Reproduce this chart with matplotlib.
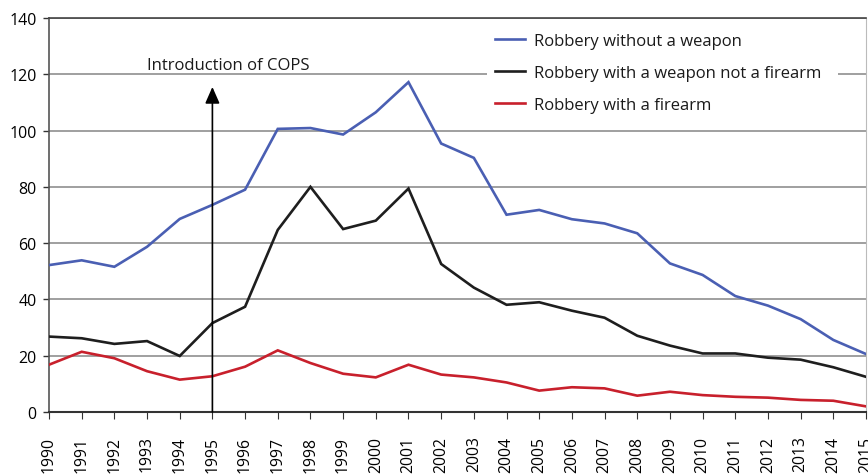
import matplotlib
matplotlib.use("Agg")
import matplotlib.pyplot as plt

plt.rcParams['font.family'] = ['Open Sans', 'DejaVu Sans']

years = list(range(1990, 2016))
without_weapon = [52.2, 53.9, 51.6, 58.7, 68.6, 73.6, 79.0, 100.6, 100.9, 98.6,
                  106.5, 117.2, 95.4, 90.3, 70.1, 71.8, 68.5, 67.0, 63.5, 52.8,
                  48.7, 41.2, 37.8, 33.0, 25.6, 20.6]
weapon_not_firearm = [26.8, 26.2, 24.2, 25.2, 19.9, 31.6, 37.4, 64.7, 80.0, 65.0,
                      68.0, 79.4, 52.6, 44.2, 38.1, 39.0, 36.0, 33.5, 27.1, 23.6,
                      20.8, 20.8, 19.3, 18.6, 15.9, 12.5]
firearm = [16.8, 21.4, 19.1, 14.5, 11.5, 12.7, 16.1, 21.9, 17.4, 13.6,
           12.3, 16.8, 13.3, 12.3, 10.5, 7.6, 8.8, 8.4, 5.8, 7.2,
           6.0, 5.4, 5.1, 4.3, 4.0, 2.0]
series_labels = ["Robbery without a weapon",
                 "Robbery with a weapon not a firearm",
                 "Robbery with a firearm"]
yticks = [0, 20, 40, 60, 80, 100, 120, 140]
annotation_text = "Introduction of COPS"
annotation_year = 1995

fig = plt.figure(figsize=(8.68, 4.77), dpi=100)
ax = fig.add_axes([49/868, 1-413/477, (866-49)/868, (413-19)/477])

colors = ['#4a5fb3', '#1e1e1e', '#c8202c']
for vals, lab, c in zip([without_weapon, weapon_not_firearm, firearm], series_labels, colors):
    ax.plot(years, vals, color=c, lw=1.9, label=lab, solid_joinstyle='miter', zorder=3)

ax.set_xlim(1990, 2015)
ax.set_ylim(0, 140)
ax.set_yticks(yticks)
ax.set_xticks(years)
ax.set_xticklabels([str(y) for y in years], rotation=90, fontsize=11.3)
ax.tick_params(axis='y', labelsize=11.5, length=4, width=1.0, pad=5, color='#333333')
ax.tick_params(axis='x', length=5, width=0.8, pad=12, color='#333333', direction='out')

ax.grid(axis='y', color='#8f8f8f', lw=1.2, zorder=1)
ax.set_axisbelow(True)

ax.spines['left'].set_color('#555555')
ax.spines['left'].set_linewidth(1.2)
ax.spines['bottom'].set_color('#333333')
ax.spines['bottom'].set_linewidth(1.5)
ax.spines['top'].set_color('#444444')
ax.spines['top'].set_linewidth(1.2)
ax.spines['right'].set_color('#bbbbbb')
ax.spines['right'].set_linewidth(0.8)

ax.annotate('', xy=(annotation_year, 115.5), xytext=(annotation_year, 0),
            arrowprops=dict(arrowstyle='-|>,head_length=0.5,head_width=0.22',
                            mutation_scale=20, lw=1.2, color='black',
                            shrinkA=0, shrinkB=0), zorder=4)
ax.text(1995.48, 123.3, annotation_text, ha='center', va='center', fontsize=12,
        color='#1a1a1a', zorder=4)

leg = ax.legend(loc='upper left', bbox_to_anchor=(487/868, 1-26/477, (838-487)/868, 0),
                bbox_transform=fig.transFigure, mode='expand', fontsize=12, frameon=True,
                facecolor='white', edgecolor='none', framealpha=1.0,
                handlelength=1.85, handletextpad=0.5, labelspacing=0.98,
                borderpad=0.45, borderaxespad=0, fancybox=False)
for t in leg.get_texts():
    t.set_color('#1a1a1a')
leg.set_zorder(5)

fig.savefig('out.png', dpi=100)
